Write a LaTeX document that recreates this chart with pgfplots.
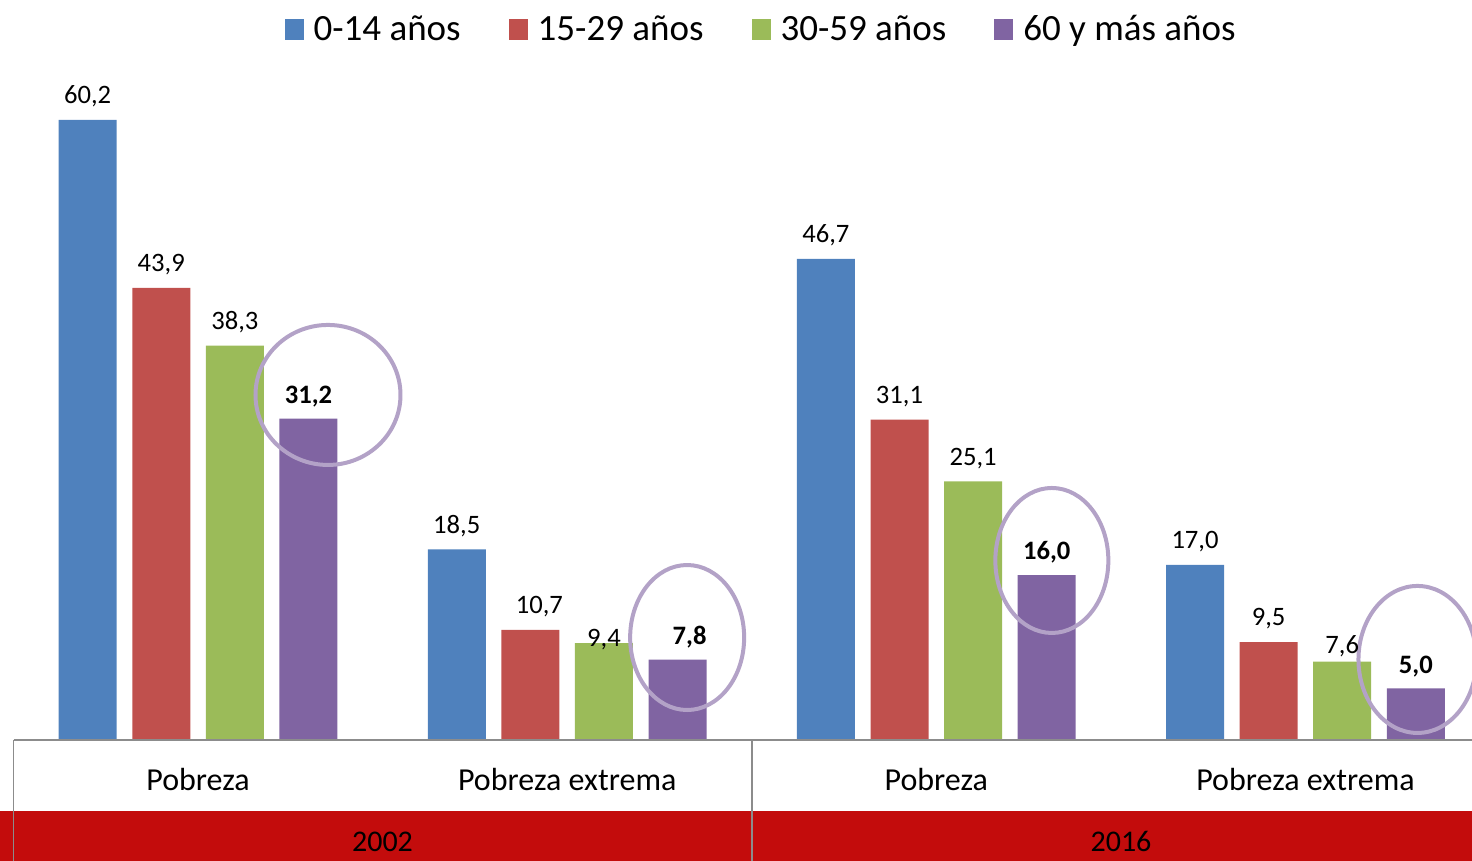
\documentclass[border=0pt]{standalone}
\usepackage{fontspec}
\setmainfont{Carlito}
\usepackage{pgfplots}
\usepackage{pgfplotstable}
\pgfplotsset{compat=1.18}

\definecolor{cA}{HTML}{4F81BD}
\definecolor{cB}{HTML}{C0504D}
\definecolor{cC}{HTML}{9BBB59}
\definecolor{cD}{HTML}{8064A2}
\definecolor{ring}{HTML}{B3A2C7}
\definecolor{band}{HTML}{C30C0C}
\definecolor{rule}{HTML}{8C8C8C}

% x = group (0: Pobreza 2002, 1: extrema 2002, 2: Pobreza 2016, 3: extrema 2016)
\pgfplotstableread{
x y lab
0 60.2 60,2
1 18.5 18,5
2 46.7 46,7
3 17.0 17,0
}\tA
\pgfplotstableread{
x y lab
0 43.9 43,9
1 10.7 \hspace*{9pt}10,7
2 31.1 31,1
3 9.5 9,5
}\tB
\pgfplotstableread{
x y lab
0 38.3 38,3
1 9.4 \raisebox{-10.5pt}{9,4}
2 25.1 25,1
3 7.6 \raisebox{-4pt}{7,6}
}\tC
\pgfplotstableread{
x y lab
0 31.2 31,2
1 7.8 \hspace*{12pt}7,8
2 16.0 16,0
3 5.0 5,0
}\tD

\begin{document}
\begin{tikzpicture}
\useasboundingbox (0,0) rectangle (736pt,430.5pt);
\clip (0,0) rectangle (736pt,430.5pt);
\fill[band] (0,0) rectangle (736pt,25pt);
\begin{axis}[
    at={(6.75pt,60.5pt)}, anchor=south west,
    scale only axis,
    width=738.25pt, height=330pt,
    xmin=-0.5, xmax=3.5,
    ymin=0, ymax=64.08,
    enlargelimits=false,
    clip=false,
    axis line style={draw=none},
    ytick=\empty,
    xtick={0,1,2,3},
    xticklabels={Pobreza,Pobreza extrema,Pobreza,Pobreza extrema},
    major tick length=0pt,
    xticklabel style={anchor=base, yshift=-25.5pt, inner sep=0pt,
        font=\fontsize{16}{19}\selectfont},
    ybar=7.8pt, bar width=29pt,
    point meta=explicit symbolic,
    nodes near coords={\pgfplotspointmeta},
    every node near coord/.append style={anchor=south, inner sep=0pt,
        text depth=0pt, yshift=8pt, font=\fontsize{13.3}{16}\selectfont},
    legend style={at={(0.507,1.0742)}, anchor=center, draw=none, fill=none,
        font=\fontsize{18.5}{22}\selectfont,
        nodes={inner sep=2pt, text height=13pt, text depth=4pt},
        /tikz/every even column/.append style={column sep=22pt}},
    legend columns=-1,
    legend image code/.code={\fill[#1] (0pt,-4.4pt) rectangle (9.5pt,6.1pt);
        \path (12.5pt,0pt);},
]
\addplot[fill=cA, draw=none] table[x=x, y=y, meta=lab] {\tA};
\addlegendentry{0-14 años}
\addplot[fill=cB, draw=none] table[x=x, y=y, meta=lab] {\tB};
\addlegendentry{15-29 años}
\addplot[fill=cC, draw=none] table[x=x, y=y, meta=lab] {\tC};
\addlegendentry{30-59 años}
\addplot[fill=cD, draw=none,
    every node near coord/.append style={yshift=-0.5pt,
        font=\fontsize{13.3}{16}\selectfont\bfseries}]
    table[x=x, y=y, meta=lab] {\tD};
\addlegendentry{60 y más años}

% rings round the oldest group's labels
\draw[ring, line width=2pt] (axis cs:0.352,33.5) ellipse [x radius=36.25pt, y radius=35pt];
\draw[ring, line width=2pt] (axis cs:1.325,9.95) ellipse [x radius=28.5pt, y radius=36.25pt];
\draw[ring, line width=2pt] (axis cs:2.313,17.43) ellipse [x radius=28.25pt, y radius=36.25pt];
\draw[ring, line width=2pt] (axis cs:3.3035,7.82) ellipse [x radius=29.5pt, y radius=36.75pt];
\end{axis}
\draw[rule, line width=0.8pt] (6.75pt,60.5pt) -- (736pt,60.5pt);
\draw[rule, line width=0.8pt] (6.75pt,0) -- (6.75pt,60.5pt);
\draw[rule, line width=0.8pt] (376pt,0) -- (376pt,60.5pt);
\node[anchor=base, inner sep=0pt, font=\fontsize{15}{18}\selectfont] at (191.25pt,4.5pt) {2002};
\node[anchor=base, inner sep=0pt, font=\fontsize{15}{18}\selectfont] at (560.5pt,4.5pt) {2016};
\end{tikzpicture}
\end{document}
